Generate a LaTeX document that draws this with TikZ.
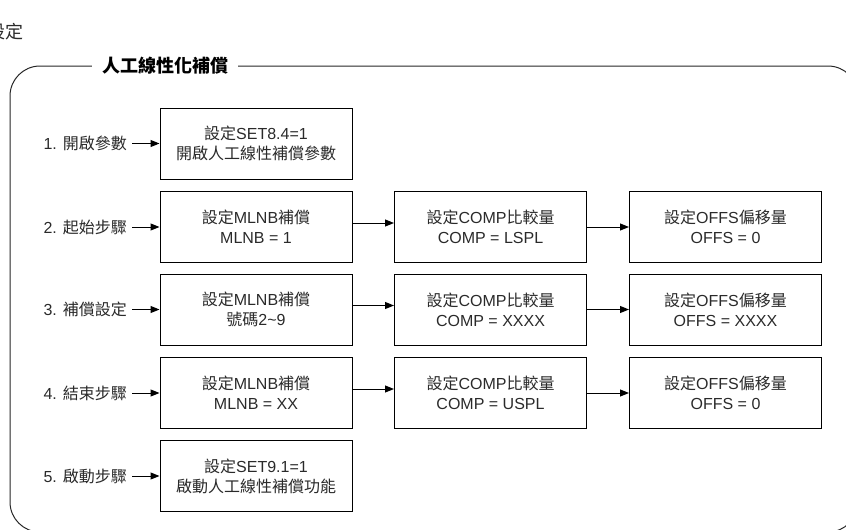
\documentclass[tikz,border=0pt]{standalone}
\usepackage{fontspec}
\setmainfont{Liberation Sans}
\newfontfamily\cjk{Noto Sans CJK TC}
\usetikzlibrary{arrows.meta}
\definecolor{txt}{HTML}{2A2A2A}
\newcommand{\zh}[1]{{\cjk #1}}
\begin{document}
\begin{tikzpicture}[x=1pt,y=-1pt,
  box/.style={draw=black, line width=1pt, minimum width=192pt, minimum height=71pt,
    align=center, text=txt, font=\fontsize{16}{20}\selectfont, inner sep=0pt},
  lab/.style={text=txt, font=\fontsize{16}{20}\selectfont, anchor=east, inner sep=0pt},
  arr/.style={-{Triangle[length=9pt,width=7pt]}, line width=1pt},
  frame/.style={draw=black!85, line width=1pt, rounded corners=30pt}]
\useasboundingbox (0,0) rectangle (846,530);
\clip (0,0) rectangle (846,530);

% page heading (partly cut off, as in the reference)
\node[anchor=east, inner sep=0pt, text=txt, font=\fontsize{18}{20}\selectfont\cjk] (hdr) at (24,32) {設定};

% outer frame and title
\draw[frame] (10,66) rectangle (858,532);
\node[fill=white, inner xsep=10pt, inner ysep=2pt, font=\fontsize{18}{20}\selectfont\cjk\bfseries] (title) at (165,66) {人工線性化補償};

% column 1
\node[box] (a1) at (256,143.5) {\zh{設定}SET8.4=1\\\zh{開啟人工線性補償參數}};
\node[box] (a2) at (256,227) {\zh{設定}MLNB\zh{補償}\\MLNB = 1};
\node[box] (a3) at (256,309.5) {\zh{設定}MLNB\zh{補償}\\\zh{號碼}2\textasciitilde 9};
\node[box] (a4) at (256,393) {\zh{設定}MLNB\zh{補償}\\MLNB = XX};
\node[box] (a5) at (256,476) {\zh{設定}SET9.1=1\\\zh{啟動人工線性補償功能}};

% column 2
\node[box] (b2) at (490.5,227) {\zh{設定}COMP\zh{比較量}\\COMP = LSPL};
\node[box] (b3) at (490.5,309.5) {\zh{設定}COMP\zh{比較量}\\COMP = XXXX};
\node[box] (b4) at (490.5,393) {\zh{設定}COMP\zh{比較量}\\COMP = USPL};

% column 3
\node[box] (c2) at (725.5,227) {\zh{設定}OFFS\zh{偏移量}\\OFFS = 0};
\node[box] (c3) at (725.5,309.5) {\zh{設定}OFFS\zh{偏移量}\\OFFS = XXXX};
\node[box] (c4) at (725.5,393) {\zh{設定}OFFS\zh{偏移量}\\OFFS = 0};

% step labels
\node[lab] (l1) at (127,143.5) {1. \zh{開啟參數}};
\node[lab] (l2) at (127,227) {2. \zh{起始步驟}};
\node[lab] (l3) at (127,309.5) {3. \zh{補償設定}};
\node[lab] (l4) at (127,393) {4. \zh{結束步驟}};
\node[lab] (l5) at (127,476) {5. \zh{啟動步驟}};

% label arrows
\foreach \i in {1,...,5}{
  \draw[arr] ([xshift=5pt]l\i.east |- a\i.west) -- (a\i.west);
}

% row arrows
\foreach \i in {2,3,4}{
  \draw[arr] ([yshift=4pt]a\i.east) -- ([yshift=4pt]b\i.west);
  \draw[arr] (b\i.east) -- (c\i.west);
}
\end{tikzpicture}
\end{document}
